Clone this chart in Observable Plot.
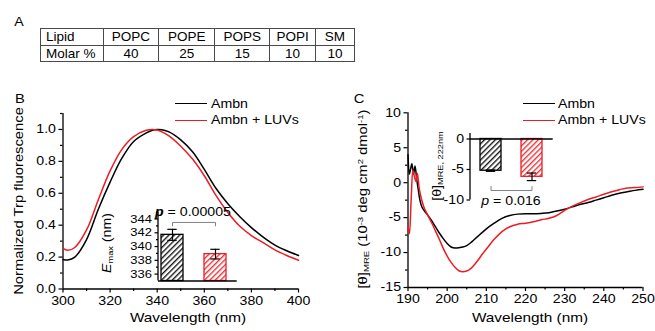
<!DOCTYPE html>
<html><head><meta charset="utf-8">
<script src="https://cdn.jsdelivr.net/npm/d3@7"></script>
<script src="https://cdn.jsdelivr.net/npm/@observablehq/plot@0.6"></script>
<style>
body{margin:0;background:#fff}
#fig{position:relative;width:655px;height:331px;overflow:hidden;background:#fff;font-family:"Liberation Sans",Arial,sans-serif;color:#000}
#fig svg{position:absolute;left:0;top:0}
.lbl{position:absolute;white-space:nowrap;line-height:1}
.lbl sub,.lbl sup{font-size:0.65em;line-height:0;position:relative;vertical-align:baseline}
.lbl sub{top:0.3em}
.lbl sup{top:-0.45em}
table.lip{position:absolute;left:40px;top:28px;border-collapse:collapse;table-layout:fixed;width:314px;font-size:13.5px}
table.lip td{border:1px solid #4a4a4a;padding:0;height:15.7px;line-height:15px;text-align:center;overflow:hidden;white-space:nowrap}
table.lip td.h{text-align:left;padding-left:5px}
</style></head>
<body><div id="fig"></div>
<script>
// ---------------- data ----------------
const lipidNames = ["POPC", "POPE", "POPS", "POPI", "SM"];
const lipidMolarPct = [40, 25, 15, 10, 10];
const tableRowHeads = ["Lipid", "Molar %"];

const seriesNames = ["Ambn", "Ambn + LUVs"];
const seriesColors = ["#000000", "#ec1c24"];

// B: normalized Trp fluorescence emission
const fluorWl = [300, 302, 305, 310, 315, 320, 325, 330, 335, 338, 340, 342, 345, 350, 355, 360, 365, 370, 375, 380, 385, 390, 395, 400];
const fluorAmbn = [0.185, 0.182, 0.20, 0.31, 0.50, 0.67, 0.82, 0.925, 0.975, 0.995, 1.0, 0.998, 0.985, 0.935, 0.86, 0.75, 0.63, 0.535, 0.455, 0.385, 0.325, 0.275, 0.24, 0.21];
const fluorAmbnLUVs = [0.255, 0.243, 0.26, 0.37, 0.56, 0.74, 0.875, 0.955, 0.993, 1.0, 0.996, 0.985, 0.96, 0.895, 0.815, 0.71, 0.585, 0.48, 0.395, 0.335, 0.29, 0.245, 0.21, 0.18];

// B inset: Emax
const emaxMean = [341.7, 338.9];
const emaxErr = [0.8, 0.7];
const emaxPText = "0.00005";

// C: CD spectra
const cdWlAmbn = [190, 190.3, 190.6, 191, 191.4, 191.8, 192.2, 192.6, 193, 193.5, 194, 195, 196, 197, 198, 199, 200, 201, 202, 203, 204, 205, 206, 207, 208, 209, 210, 212, 214, 216, 218, 220, 222, 224, 226, 228, 230, 232, 234, 236, 238, 240, 242, 244, 246, 248, 250];
const cdAmbn = [4.0, 1.2, 1.8, 2.7, 1.2, 2.4, 0.6, -0.9, -2.4, -3.4, -3.9, -4.6, -5.4, -6.3, -7.2, -8.0, -8.7, -9.2, -9.35, -9.3, -9.2, -9.0, -8.6, -8.1, -7.6, -7.1, -6.6, -5.8, -5.1, -4.7, -4.5, -4.45, -4.45, -4.4, -4.3, -4.05, -3.8, -3.45, -3.1, -2.85, -2.5, -2.15, -1.8, -1.5, -1.3, -1.1, -0.95];
const cdWlAmbnLUVs = [190, 190.4, 190.8, 191.2, 191.5, 192, 192.4, 192.8, 193.2, 194, 195, 196, 197, 198, 199, 200, 201, 202, 203, 204, 205, 206, 207, 208, 209, 210, 212, 214, 216, 218, 220, 222, 224, 226, 228, 230, 232, 234, 236, 238, 240, 242, 244, 246, 248, 250];
const cdAmbnLUVs = [-6.3, -7.3, -2.5, 1.8, 1.2, 0.2, 1.3, -0.6, -1.8, -3.4, -4.6, -5.7, -6.9, -8.1, -9.4, -10.5, -11.4, -12.1, -12.6, -12.75, -12.65, -12.3, -11.7, -11.0, -10.2, -9.5, -8.1, -7.0, -6.3, -5.95, -5.8, -5.6, -5.3, -5.1, -4.7, -3.95, -3.35, -2.85, -2.4, -2.05, -1.65, -1.3, -1.0, -0.75, -0.7, -0.6];

// C inset: [theta] at 222 nm
const theta222Mean = [-5.2, -6.2];
const theta222Err = [0.1, 0.62];
const theta222PText = "0.016";

// ticks
const fluorXTicks = [300, 320, 340, 360, 380, 400];
const fluorXMinor = [310, 330, 350, 370, 390];
const fluorYTicks = [0, 0.2, 0.4, 0.6, 0.8, 1.0];
const fluorYMinor = [0.1, 0.3, 0.5, 0.7, 0.9, 1.1];
const emaxYTicks = [336, 338, 340, 342, 344];
const emaxYMinor = [337, 339, 341, 343, 345];
const cdXTicks = [190, 200, 210, 220, 230, 240, 250];
const cdXMinor = [195, 205, 215, 225, 235, 245];
const cdYTicks = [-15, -10, -5, 0, 5, 10];
const cdYMinor = [-12.5, -7.5, -2.5, 2.5, 7.5];
const thetaYTicks = [-10, -5, 0];

// ---------------- rendering ----------------
const W = 655, H = 331;
const S = 1.18; // horizontal glyph stretch of the reference
const FONT = '"Liberation Sans", Arial, sans-serif';
const fig = document.getElementById("fig");
const baseStyle = {background: "transparent", fontFamily: FONT, overflow: "visible"};
const noLabel = () => "";

function stretchText(svg, s) {
  d3.select(svg).selectAll("text").each(function () {
    let t = this.getAttribute("transform") || "";
    const x = this.getAttribute("x");
    if (x != null && !/em$/.test(x)) { t += ` translate(${x},0)`; this.removeAttribute("x"); }
    this.setAttribute("transform", `${t} scale(${s},1)`);
  });
}
function addPatterns(svg, prefix) {
  const defs = d3.select(svg).insert("defs", ":first-child");
  seriesColors.forEach((c, i) => {
    const p = defs.append("pattern").attr("id", prefix + i).attr("patternUnits", "userSpaceOnUse")
      .attr("width", 3.8).attr("height", 3.8).attr("patternTransform", "rotate(45)");
    p.append("rect").attr("width", 3.8).attr("height", 3.8).attr("fill", "#fff");
    p.append("line").attr("x1", 0.7).attr("x2", 0.7).attr("y1", -1).attr("y2", 5).attr("stroke", c).attr("stroke-width", 1.25);
  });
}
function addSpine(svg, plot, x, v0, v1) {
  const y = plot.scale("y");
  d3.select(svg).append("line").attr("x1", x).attr("x2", x)
    .attr("y1", y.apply(v0)).attr("y2", y.apply(v1)).attr("stroke", "#000").attr("stroke-width", 1.3);
}
function addLabel(html, x, y, {size = 12, anchor = "middle", rotate = 0, sx = S, color = "#000"} = {}) {
  const d = document.createElement("div");
  d.className = "lbl";
  d.innerHTML = html;
  d.style.left = x + "px"; d.style.top = y + "px"; d.style.fontSize = size + "px"; d.style.color = color;
  const tx = anchor === "start" ? "0" : anchor === "end" ? "-100%" : "-50%";
  d.style.transformOrigin = "0 0";
  d.style.transform = `rotate(${rotate}deg) scaleX(${sx}) translate(${tx}, -50%)`;
  fig.appendChild(d);
}
function addLegendLine(x1, x2, y, color) {
  const d = document.createElement("div");
  d.style.cssText = `position:absolute;left:${x1}px;top:${y - 0.75}px;width:${x2 - x1}px;height:0;border-top:1.5px solid ${color}`;
  fig.appendChild(d);
}

// ---- B main ----
const fluorRows = seriesNames.flatMap((s, k) => fluorWl.map((wl, i) => ({series: s, wl, v: (k ? fluorAmbnLUVs : fluorAmbn)[i]})));
const fx0 = fluorXTicks[0], fx1 = fluorXTicks[fluorXTicks.length - 1];
const plotB = Plot.plot({
  width: W, height: H,
  marginLeft: 62.5, marginRight: W - 298, marginTop: 113, marginBottom: H - 288.5,
  style: {...baseStyle, fontSize: "12px"},
  x: {domain: [fx0, fx1]},
  y: {domain: [0, 1.1]},
  color: {domain: seriesNames, range: seriesColors},
  marks: [
    Plot.axisX({ticks: fluorXTicks, tickSize: 4, tickPadding: 3, fontSize: 12, label: null, strokeWidth: 1.2}),
    Plot.axisX({ticks: fluorXMinor, tickSize: 2.5, tickFormat: noLabel, label: null, strokeWidth: 1.2}),
    Plot.axisY({ticks: fluorYTicks, tickSize: 4, tickPadding: 3, fontSize: 12, tickFormat: d3.format(".1f"), label: null, strokeWidth: 1.2}),
    Plot.axisY({ticks: fluorYMinor, tickSize: 2.5, tickFormat: noLabel, label: null, strokeWidth: 1.2}),
    Plot.ruleX([fx0], {strokeWidth: 1.3}),
    Plot.ruleY([0], {strokeWidth: 1.3}),
    Plot.line(fluorRows, {x: "wl", y: "v", z: "series", stroke: "series", strokeWidth: 1.5, curve: "catmull-rom"})
  ]
});
stretchText(plotB, S);
fig.appendChild(plotB);

// ---- C main ----
const cdRows = [
  ...cdWlAmbn.map((wl, i) => ({series: seriesNames[0], wl, v: cdAmbn[i]})),
  ...cdWlAmbnLUVs.map((wl, i) => ({series: seriesNames[1], wl, v: cdAmbnLUVs[i]}))
];
const cx0 = cdXTicks[0], cx1 = cdXTicks[cdXTicks.length - 1];
const cy0 = cdYTicks[0], cy1 = cdYTicks[cdYTicks.length - 1];
const plotC = Plot.plot({
  width: W, height: H,
  marginLeft: 407.5, marginRight: W - 642.5, marginTop: 112.3, marginBottom: H - 287,
  style: {...baseStyle, fontSize: "12px"},
  x: {domain: [cx0, cx1]},
  y: {domain: [cy0, cy1]},
  color: {domain: seriesNames, range: seriesColors},
  marks: [
    Plot.axisX({ticks: cdXTicks, tickSize: 4, tickPadding: 3, fontSize: 12, label: null, strokeWidth: 1.2}),
    Plot.axisX({ticks: cdXMinor, tickSize: 2.5, tickFormat: noLabel, label: null, strokeWidth: 1.2}),
    Plot.axisY({ticks: cdYTicks, tickSize: 4, tickPadding: 3, fontSize: 12, tickFormat: d => String(d), label: null, strokeWidth: 1.2}),
    Plot.axisY({ticks: cdYMinor, tickSize: 2.5, tickFormat: noLabel, label: null, strokeWidth: 1.2}),
    Plot.ruleX([cx0], {strokeWidth: 1.3}),
    Plot.ruleY([cy0], {strokeWidth: 1.3}),
    Plot.line(cdRows, {x: "wl", y: "v", z: "series", stroke: "series", strokeWidth: 1.5, curve: "monotone-x"})
  ]
});
stretchText(plotC, S);
fig.appendChild(plotC);

// ---- B inset ----
const emaxRows = seriesNames.map((s, i) => ({series: s, mean: emaxMean[i], err: emaxErr[i], fill: `url(#hb${i})`, color: seriesColors[i]}));
const ey0 = 335, ey1 = 345;
const brB = [343.0, 343.5];
const bracketB = [
  {x: seriesNames[0], y: brB[0]}, {x: seriesNames[0], y: brB[1]},
  {x: seriesNames[1], y: brB[1]}, {x: seriesNames[1], y: brB[0]}
];
const insetB = Plot.plot({
  width: W, height: H,
  marginLeft: 158, marginRight: W - 236.7, marginTop: 211.6, marginBottom: H - 280.5,
  style: {...baseStyle, fontSize: "11px"},
  x: {type: "band", domain: seriesNames, paddingInner: 0.477, paddingOuter: 0.153, align: 0.227, axis: null},
  y: {domain: [ey0, ey1]},
  color: {type: "identity"},
  marks: [
    Plot.barY(emaxRows, {x: "series", y1: ey0, y2: "mean", fill: "fill", stroke: "color", strokeWidth: 1.3}),
    Plot.ruleX(emaxRows, {x: "series", y1: d => d.mean - d.err, y2: d => d.mean + d.err, stroke: "#000", strokeWidth: 1.2}),
    Plot.tickY(emaxRows, {x: "series", y: d => d.mean + d.err, insetLeft: 6.3, insetRight: 6.3, stroke: "#000", strokeWidth: 1.2}),
    Plot.tickY(emaxRows, {x: "series", y: d => d.mean - d.err, insetLeft: 6.3, insetRight: 6.3, stroke: "#000", strokeWidth: 1.2}),
    Plot.line(bracketB, {x: "x", y: "y", stroke: "#808080", strokeWidth: 1}),
    Plot.axisY({ticks: emaxYTicks, tickSize: 3.5, tickPadding: 3, fontSize: 11, label: null, strokeWidth: 1.2}),
    Plot.axisY({ticks: emaxYMinor, tickSize: 2, tickFormat: noLabel, label: null, strokeWidth: 1.2}),
    Plot.ruleY([ey0], {strokeWidth: 1.3})
  ]
});
addPatterns(insetB, "hb");
addSpine(insetB, insetB, 158, ey0, ey1);
stretchText(insetB, S);
fig.appendChild(insetB);

// ---- C inset ----
const thetaRows = seriesNames.map((s, i) => ({series: s, mean: theta222Mean[i], err: theta222Err[i], fill: `url(#hc${i})`, color: seriesColors[i]}));
const ty0 = thetaYTicks[0], ty1 = 0.9;
const brC = [-8.45, -7.8];
const bracketC = [
  {x: seriesNames[0], y: brC[1]}, {x: seriesNames[0], y: brC[0]},
  {x: seriesNames[1], y: brC[0]}, {x: seriesNames[1], y: brC[1]}
];
const insetC = Plot.plot({
  width: W, height: H,
  marginLeft: 470, marginRight: W - 552.7, marginTop: 133, marginBottom: H - 199.5,
  style: {...baseStyle, fontSize: "12px"},
  x: {type: "band", domain: seriesNames, paddingInner: 0.489, paddingOuter: 0.247, align: 0.46, axis: null},
  y: {domain: [ty0, ty1]},
  color: {type: "identity"},
  marks: [
    Plot.barY(thetaRows, {x: "series", y1: 0, y2: "mean", fill: "fill", stroke: "color", strokeWidth: 1.3}),
    Plot.ruleX(thetaRows, {x: "series", y1: d => d.mean - d.err, y2: d => d.mean + d.err, stroke: "#000", strokeWidth: 1.2}),
    Plot.tickY(thetaRows, {x: "series", y: d => d.mean + d.err, insetLeft: 5.8, insetRight: 5.8, stroke: "#000", strokeWidth: 1.2}),
    Plot.tickY(thetaRows, {x: "series", y: d => d.mean - d.err, insetLeft: 5.8, insetRight: 5.8, stroke: "#000", strokeWidth: 1.2}),
    Plot.line(bracketC, {x: "x", y: "y", stroke: "#808080", strokeWidth: 1}),
    Plot.axisY({ticks: thetaYTicks, tickSize: 3.5, tickPadding: 3, fontSize: 12, tickFormat: d => String(d), label: null, strokeWidth: 1.2}),
    Plot.ruleY([0], {strokeWidth: 1.3})
  ]
});
addPatterns(insetC, "hc");
addSpine(insetC, insetC, 470, ty0, ty1);
stretchText(insetC, S);
fig.appendChild(insetC);

// ---- table (A) ----
const tbl = document.createElement("table");
tbl.className = "lip";
const cg = document.createElement("colgroup");
[62.7, 55.6, 56, 55, 45.7, 39].forEach(w => { const c = document.createElement("col"); c.style.width = w + "px"; cg.appendChild(c); });
tbl.appendChild(cg);
[[tableRowHeads[0], ...lipidNames], [tableRowHeads[1], ...lipidMolarPct]].forEach(row => {
  const tr = document.createElement("tr");
  row.forEach((v, j) => { const td = document.createElement("td"); td.textContent = v; if (j === 0) td.className = "h"; tr.appendChild(td); });
  tbl.appendChild(tr);
});
fig.appendChild(tbl);

// ---- text labels ----
addLabel("A", 18.5, 22, {size: 12});
addLabel("B", 20, 98.5, {size: 12.5});
addLabel("C", 359, 98.5, {size: 12.5});

addLabel("Wavelength (nm)", 188, 316.5, {size: 13});
addLabel("Wavelength (nm)", 530, 316.5, {size: 13});
addLabel("Normalized Trp fluorescence", 19, 201, {size: 12.5, rotate: -90});
addLabel("[&theta;]<sub>MRE</sub> (10<sup>-3</sup> deg cm<sup>2</sup> dmol<sup>-1</sup>)", 363, 199, {size: 12.5, rotate: -90});
addLabel("<i>E</i><sub>max</sub> (nm)", 106.5, 243, {size: 12, rotate: -90});
addLabel("[&theta;]<sub>MRE, 222nm</sub>", 437, 166, {size: 12, rotate: -90});

addLabel(`<b><i>p</i></b> = ${emaxPText}`, 193, 211.7, {size: 12});
addLabel(`<i>p</i> = ${theta222PText}`, 510.5, 200.8, {size: 12});

// legends
[[175, 207, 210.5], [522.7, 555, 557.5]].forEach(([a, b, t]) => {
  seriesNames.forEach((s, i) => {
    const y = 104 + i * 16.3;
    addLegendLine(a, b, y, seriesColors[i]);
    addLabel(s, t, y, {size: 12, anchor: "start"});
  });
});
</script></body></html>
